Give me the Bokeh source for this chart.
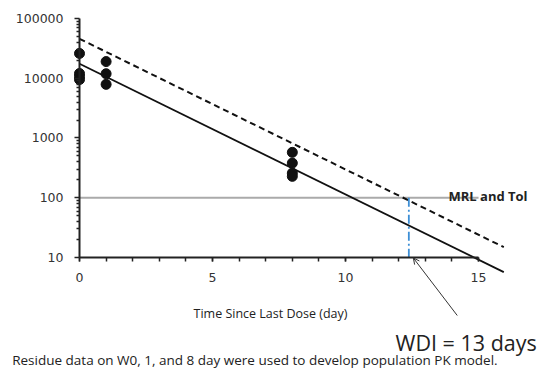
from bokeh.plotting import figure
from bokeh.models import (FixedTicker, NumeralTickFormatter, Label, Arrow,
                          OpenHead, Range1d)
from bokeh.embed import file_html
from bokeh.resources import INLINE

# ---- data ----
day0_x = [0, 0, 0, 0]
day0_y = [26000, 12000, 10700, 9500]
day1_x = [1, 1, 1]
day1_y = [19000, 11900, 7900]
day8_x = [8, 8, 8, 8]
day8_y = [575, 380, 258, 228]

fit_x = [0, 15.95]
median_y = [17500, 5.7]      # solid line
upper_y = [45700, 14.9]      # dashed line (upper tolerance limit)

mrl_x = [0, 15]
mrl_y = [100, 100]

wdi_x = [12.38, 12.38]
wdi_y = [100, 10]

x_ticks = [0, 5, 10, 15]
x_minor = list(range(0, 16))
y_ticks = [10, 100, 1000, 10000, 100000]
y_minor = [m * d for d in [10, 100, 1000, 10000] for m in range(2, 10)]

# frame spans the whole canvas; axes are pinned with fixed_location
p = figure(width=548, height=369, x_range=Range1d(-2.97, 17.63),
           y_range=Range1d(0.1336, 200000), y_axis_type="log",
           output_backend="svg", toolbar_location=None,
           min_border=0, min_border_left=0, min_border_right=0,
           min_border_top=0, min_border_bottom=0)
p.outline_line_color = None
p.xgrid.grid_line_color = None
p.ygrid.grid_line_color = None
p.background_fill_color = "white"
p.border_fill_color = "white"

# x axis
xa = p.xaxis[0]
xa.fixed_location = 10
xa.bounds = (0, 15)
xa.ticker = FixedTicker(ticks=x_ticks, minor_ticks=x_minor)
xa.axis_line_width = 2
xa.axis_line_color = "#222222"
xa.major_tick_in = 0
xa.major_tick_out = 4
xa.minor_tick_in = 0
xa.minor_tick_out = 4
xa.major_tick_line_width = 1.5
xa.minor_tick_line_width = 1.5
xa.major_tick_line_color = "#222222"
xa.minor_tick_line_color = "#222222"
xa.major_label_text_font = "DejaVu Sans"
xa.major_label_text_font_size = "12.5px"
xa.major_label_text_color = "#333333"
xa.major_label_standoff = 11

# y axis
ya = p.yaxis[0]
ya.fixed_location = 0
ya.bounds = (10, 100000)
ya.ticker = FixedTicker(ticks=y_ticks, minor_ticks=y_minor)
ya.formatter = NumeralTickFormatter(format="0")
ya.axis_line_width = 2
ya.axis_line_color = "#222222"
ya.major_tick_in = 0
ya.major_tick_out = 5
ya.minor_tick_in = 0
ya.minor_tick_out = 3
ya.major_tick_line_width = 1.5
ya.minor_tick_line_width = 1.5
ya.major_tick_line_color = "#222222"
ya.minor_tick_line_color = "#222222"
ya.major_label_text_font = "DejaVu Sans"
ya.major_label_text_font_size = "12.5px"
ya.major_label_text_color = "#333333"
ya.major_label_standoff = 11

# MRL line
p.line(mrl_x, mrl_y, line_color="#aaaaaa", line_width=2)

# fitted lines
p.line(fit_x, upper_y, line_color="#111111", line_width=2, line_dash="6 4")
p.line(fit_x, median_y, line_color="#111111", line_width=1.8)

# WDI vertical
p.line(wdi_x, wdi_y, line_color="#3d8fd6", line_width=1.8, line_dash="9 3 2 3")

# data points
p.scatter(day0_x, day0_y, size=10, color="#111111")
p.scatter(day1_x, day1_y, size=10, color="#111111")
p.scatter(day8_x, day8_y, size=10, color="#111111")

# x-axis title
p.add_layout(Label(x=7.18, y=1.156, text="Time Since Last Dose (day)",
                   text_font="Open Sans", text_font_size="12.5px",
                   text_color="#222222", text_align="center",
                   text_baseline="alphabetic"))

p.add_layout(Label(x=13.87, y=108, text="MRL and Tol", text_font="Open Sans",
                   text_font_style="bold", text_font_size="13px",
                   text_color="#222222", text_baseline="alphabetic"))

p.add_layout(Arrow(x_start=14.2, y_start=1.07, x_end=12.55, y_end=9.8,
                   line_color="#333333", line_width=1,
                   end=OpenHead(size=6, line_color="#333333", line_width=1)))

p.add_layout(Label(x=11.88, y=0.382, text="WDI = 13 days",
                   text_font="Open Sans", text_font_size="21.5px",
                   text_color="#222222", text_baseline="alphabetic"))

p.add_layout(Label(x=-2.53, y=0.189,
                   text="Residue data on W0, 1, and 8 day were used to develop population PK model.",
                   text_font="Open Sans", text_font_size="13.5px",
                   text_color="#222222", text_baseline="alphabetic"))

open("out.html", "w").write(file_html(p, INLINE))
